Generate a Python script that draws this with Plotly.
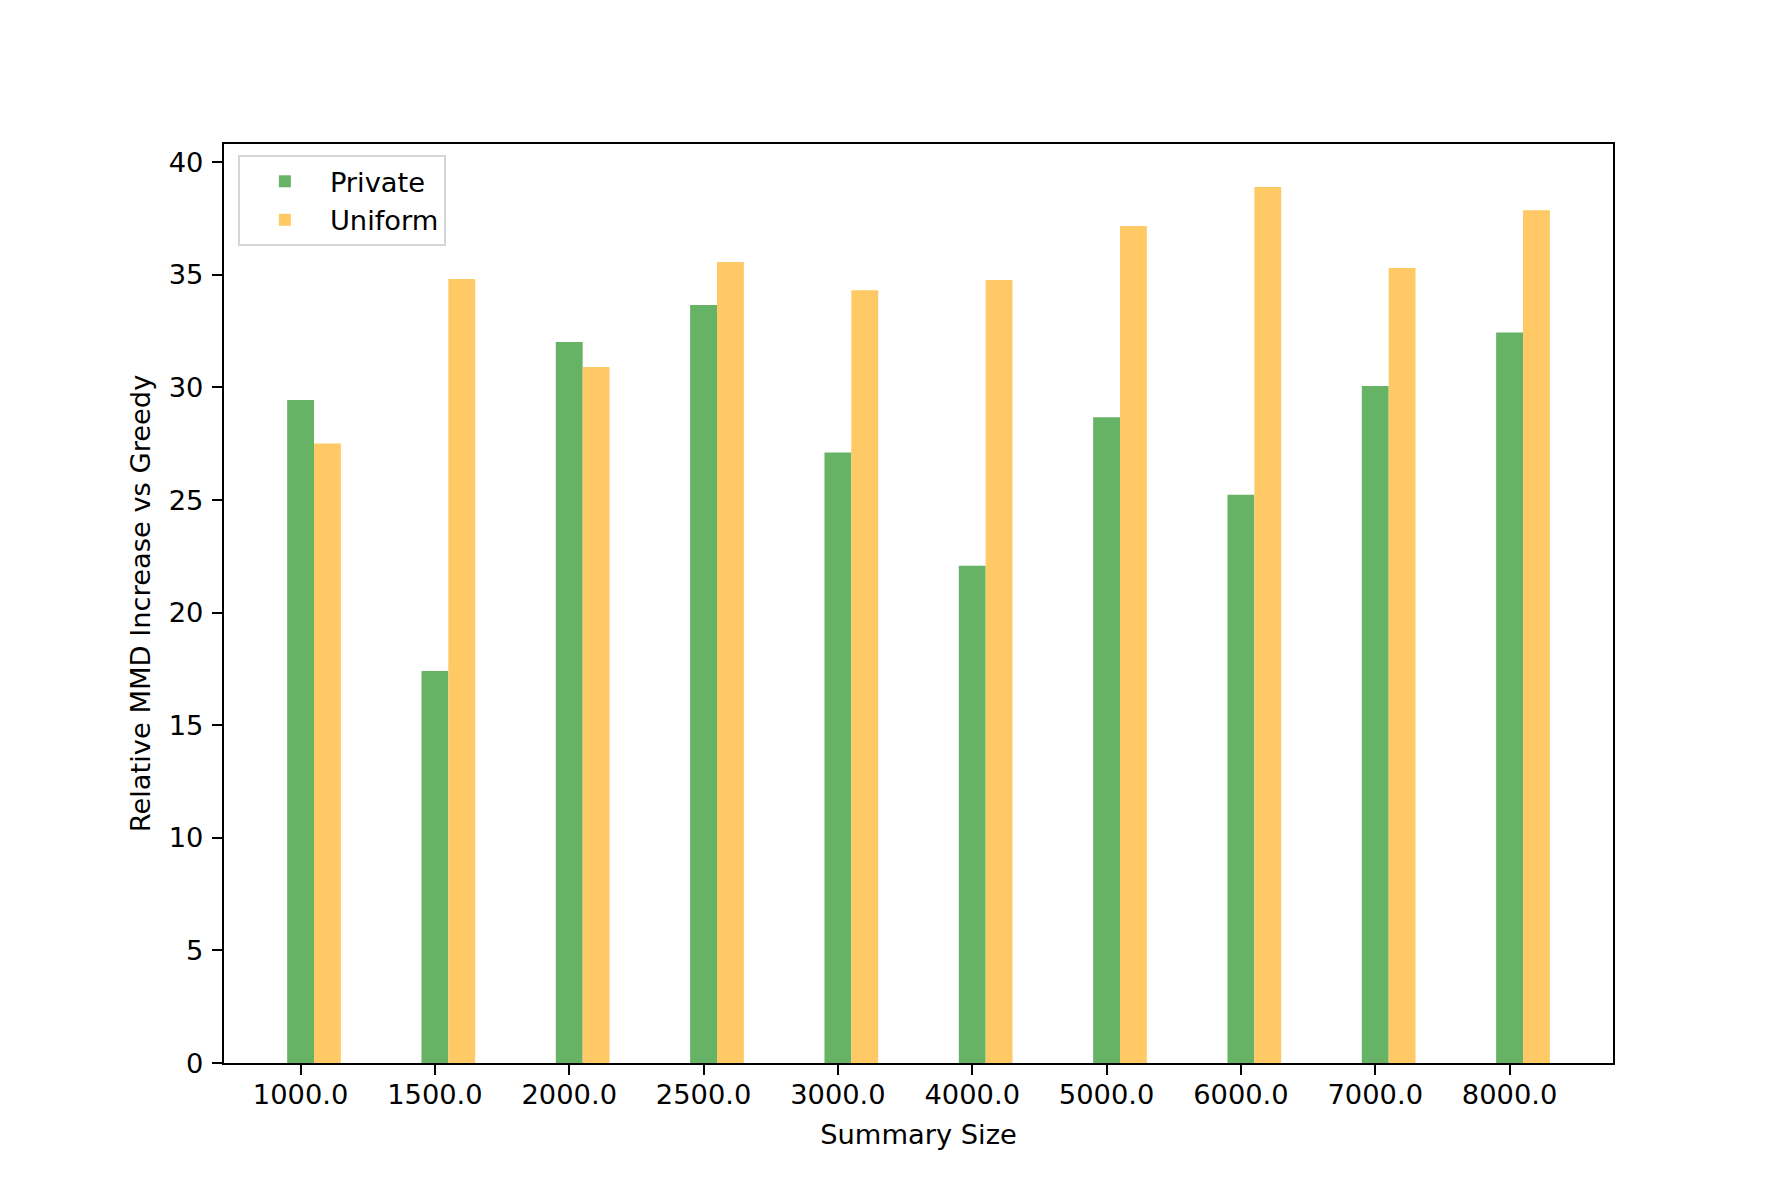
import plotly.graph_objects as go

categories = ["1000.0", "1500.0", "2000.0", "2500.0", "3000.0",
              "4000.0", "5000.0", "6000.0", "7000.0", "8000.0"]
private_vals = [29.44, 17.41, 32.02, 33.66, 27.11, 22.08, 28.68, 25.23, 30.06, 32.44]
uniform_vals = [27.51, 34.81, 30.91, 35.57, 34.32, 34.77, 37.17, 38.90, 35.30, 37.87]
y_ticks = [0, 5, 10, 15, 20, 25, 30, 35, 40]

xpos = list(range(len(categories)))
FONT = "DejaVu Sans"
FS = 27.3

fig = go.Figure()
fig.add_trace(go.Bar(x=xpos, y=private_vals, name="Private", width=0.2, offset=-0.1,
                     marker=dict(color="#66b366", line=dict(width=0))))
fig.add_trace(go.Bar(x=xpos, y=uniform_vals, name="Uniform", width=0.2, offset=0.1,
                     marker=dict(color="#ffc966", line=dict(width=0))))

axis_common = dict(showline=True, linecolor="black", linewidth=2.2, mirror=True,
                   showgrid=False, zeroline=False, ticks="outside", ticklen=10,
                   tickwidth=2.2, tickcolor="black",
                   tickfont=dict(family=FONT, size=FS, color="black"))

# page body adds an 8px offset; compensate so the plot area sits where the reference has it
fig.update_layout(
    width=1784, height=1186,
    margin=dict(l=216, r=179, t=136, b=131),
    paper_bgcolor="white", plot_bgcolor="white",
    barmode="overlay",
    font=dict(family=FONT, size=FS, color="black"),
    xaxis=dict(range=[-0.57, 9.77], tickmode="array", tickvals=xpos, ticktext=categories,
               title=dict(text="Summary Size", font=dict(family=FONT, size=FS), standoff=16),
               ticklabelstandoff=-4, **axis_common),
    yaxis=dict(range=[0, 40.81], tickmode="array", tickvals=y_ticks,
               ticktext=[str(v) for v in y_ticks],
               title=dict(text="Relative MMD Increase vs Greedy", font=dict(family=FONT, size=FS), standoff=10),
               ticklabelstandoff=3, **axis_common),
    legend=dict(x=0.010, y=0.988, xanchor="left", yanchor="top",
                bgcolor="rgba(255,255,255,0.8)", bordercolor="#d5d5d5", borderwidth=2,
                font=dict(family=FONT, size=FS, color="black"),
                itemwidth=80, tracegroupgap=0),
    showlegend=True,
)

fig.write_html("out.html")
